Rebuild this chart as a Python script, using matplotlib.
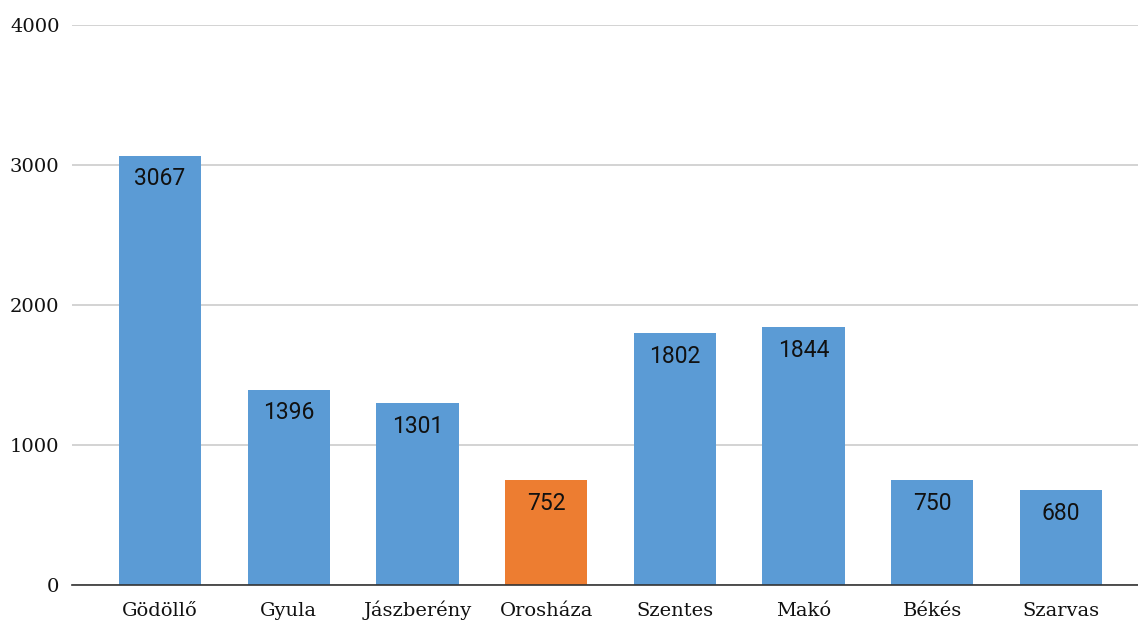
import matplotlib.pyplot as plt

# Town names and values
towns = ['Gödöllő', 'Gyula', 'Jászberény', 'Orosháza', 'Szentes', 'Makó', 'Békés', 'Szarvas']
values = [3067, 1396, 1301, 752, 1802, 1844, 750, 680]
highlight = 'Orosháza'

blue = '#5B9BD5'
orange = '#ED7D31'
colors = [orange if t == highlight else blue for t in towns]

fig = plt.figure(figsize=(11.38, 6.21), dpi=100)
ax = fig.add_axes([0.0633, 0.058, 0.9367, 0.9017])

x = range(len(towns))
bars = ax.bar(x, values, width=0.64, color=colors, zorder=3)

# Value labels inside the top of each bar
for b, v in zip(bars, values):
    ax.annotate(str(v), (b.get_x() + b.get_width() / 2, v),
                xytext=(0, -8.5), textcoords='offset points',
                ha='center', va='top', fontsize=16.5,
                family='Roboto', color='#111111', zorder=4)

ax.set_ylim(0, 4000)
ax.set_xlim(-0.684, 7.6)
ax.set_yticks([0, 1000, 2000, 3000, 4000])
ax.set_xticks(list(x))
ax.set_xticklabels(towns)

for lbl in ax.get_xticklabels() + ax.get_yticklabels():
    lbl.set_family('DejaVu Serif')
    lbl.set_fontsize(14)
    lbl.set_color('#111111')
for lbl in ax.get_xticklabels():
    lbl.set_verticalalignment('baseline')

ax.tick_params(axis='both', length=0)
ax.tick_params(axis='y', pad=9)
ax.tick_params(axis='x', pad=22)

ax.grid(axis='y', color='#cccccc', linewidth=1.2, zorder=0)
for s in ['top', 'right', 'left']:
    ax.spines[s].set_visible(False)
ax.spines['bottom'].set_color('#333333')
ax.spines['bottom'].set_linewidth(1.2)
ax.spines['bottom'].set_zorder(5)

fig.savefig('out.png', dpi=100)
